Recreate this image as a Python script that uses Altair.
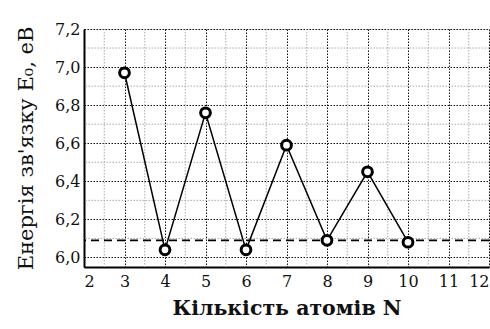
import altair as alt
import pandas as pd

n_atoms = [3, 4, 5, 6, 7, 8, 9, 10]
energy = [6.97, 6.04, 6.76, 6.04, 6.59, 6.09, 6.45, 6.08]
ref_level = 6.09
x_major = [2, 3, 4, 5, 6, 7, 8, 9, 10, 11, 12]
x_minor = [2.5, 3.5, 4.5, 5.5, 6.5, 7.5, 8.5, 9.5, 10.5, 11.5]
y_major = [6.0, 6.2, 6.4, 6.6, 6.8, 7.0, 7.2]
y_minor = [6.1, 6.3, 6.5, 6.7, 6.9, 7.1]

df = pd.DataFrame({"N": n_atoms, "E": energy})
FONT = "DejaVu Serif"

xs = alt.Scale(domain=[2, 12], nice=False, zero=False)
ys = alt.Scale(domain=[5.95, 7.2], nice=False, zero=False)

yaxis = alt.Axis(values=y_major, title="Енергія зв'язку E₀, eB", labelOverlap=False,
                 labelExpr="replace(format(datum.value, '.1f'), '.', ',')",
                 titleFontSize=21, titleFontWeight="normal", titlePadding=18,
                 labelPadding=4)
xaxis = alt.Axis(values=x_major, title="Кількість атомів N", labelOverlap=False,
                 titleFontSize=20.5, titleFontWeight="bold", titlePadding=9,
                 labelPadding=6)

X = lambda f: alt.X(f, scale=xs, axis=xaxis)
Y = lambda f: alt.Y(f, scale=ys, axis=yaxis)

minor_v = alt.Chart(pd.DataFrame({"x": x_minor})).mark_rule(
    color="#aaa", strokeDash=[1.5, 1.5], strokeWidth=1
).encode(x=X("x:Q"))

minor_h = alt.Chart(pd.DataFrame({"y": y_minor})).mark_rule(
    color="#aaa", strokeDash=[1.5, 1.5], strokeWidth=1
).encode(y=Y("y:Q"))

dash = alt.Chart(pd.DataFrame({"y": [ref_level]})).mark_rule(
    color="black", strokeDash=[8, 5], strokeWidth=1.6
).encode(y=Y("y:Q"))

line = alt.Chart(df).mark_line(color="black", strokeWidth=1.5).encode(
    x=X("N:Q"), y=Y("E:Q"))

pts = alt.Chart(df).mark_point(shape="circle", filled=False, size=95,
                               stroke="black", strokeWidth=3, fill="white",
                               fillOpacity=1, opacity=1).encode(
    x=X("N:Q"), y=Y("E:Q"))

chart = alt.layer(minor_v, minor_h, dash, line, pts).properties(
    width=405, height=238,
    autosize=alt.AutoSizeParams(type="none"),
    padding={"left": 84, "top": 29, "right": 1, "bottom": 62},
).configure_view(stroke="black", strokeWidth=2).configure(
    background="white", font=FONT
).configure_axis(
    grid=True, gridDash=[1.5, 1.5], gridColor="#111", gridWidth=1, gridOpacity=1,
    tickSize=0, labelFontSize=16, labelFont=FONT, titleFont=FONT,
    domainColor="black", domainWidth=2, labelColor="#111", titleColor="#111"
)

chart.save("out.html", embed_options={"renderer": "svg", "actions": False})
